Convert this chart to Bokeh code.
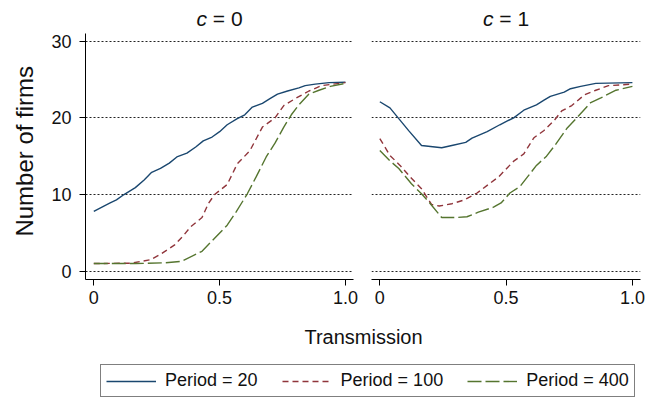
import math
from bokeh.plotting import figure
from bokeh.layouts import column, row
from bokeh.models import (Range1d, FixedTicker, CustomJSTickFormatter, Label,
                          Legend, LegendItem)
from bokeh.embed import file_html
from bokeh.resources import INLINE

FONT = "Liberation Sans"
TXT = "#111111"

panel_titles = ["0", "1"]
series_labels = ["Period = 20", "Period = 100", "Period = 400"]
y_ticks = [0, 10, 20, 30]
x_ticks = [0, 0.5, 1.0]

# c = 0
c0_p20_x = [0, 0.04, 0.065, 0.09, 0.12, 0.165, 0.2, 0.23, 0.265, 0.3, 0.33, 0.37, 0.405, 0.435,
            0.47, 0.5, 0.53, 0.57, 0.6, 0.63, 0.67, 0.7, 0.73, 0.77, 0.815, 0.84, 0.88, 0.935, 1.0]
c0_p20_y = [7.8, 8.5, 8.9, 9.3, 10.0, 10.9, 11.9, 12.9, 13.4, 14.1, 14.9, 15.4, 16.2, 17.0,
            17.5, 18.2, 19.1, 19.9, 20.4, 21.4, 21.9, 22.5, 23.1, 23.5, 23.9, 24.2, 24.4, 24.6, 24.65]
c0_p100_x = [0, 0.15, 0.225, 0.265, 0.32, 0.355, 0.385, 0.43, 0.455, 0.48, 0.53, 0.57, 0.62,
             0.67, 0.72, 0.755, 0.8, 0.855, 0.905, 1.0]
c0_p100_y = [1.0, 1.05, 1.5, 2.2, 3.4, 4.6, 5.8, 7.0, 8.8, 10.0, 11.3, 14.0, 15.7,
             18.8, 20.0, 21.6, 22.5, 23.5, 24.2, 24.6]
c0_p400_x = [0, 0.165, 0.285, 0.35, 0.43, 0.48, 0.53, 0.565, 0.61, 0.645, 0.685, 0.72, 0.755,
             0.785, 0.815, 0.855, 0.895, 0.94, 1.0]
c0_p400_y = [1.0, 1.0, 1.1, 1.3, 2.6, 4.3, 6.0, 7.7, 10.1, 12.3, 14.9, 16.7, 18.8,
             20.4, 21.7, 23.1, 23.6, 24.1, 24.5]

# c = 1
c1_p20_x = [0, 0.04, 0.075, 0.115, 0.165, 0.245, 0.285, 0.34, 0.365, 0.425, 0.475, 0.505, 0.53,
            0.57, 0.62, 0.65, 0.675, 0.73, 0.755, 0.795, 0.855, 1.0]
c1_p20_y = [22.1, 21.3, 19.9, 18.3, 16.4, 16.1, 16.4, 16.8, 17.35, 18.2, 19.1, 19.6, 20.0,
            21.0, 21.7, 22.3, 22.8, 23.35, 23.8, 24.1, 24.5, 24.6]
c1_p100_x = [0, 0.04, 0.08, 0.12, 0.165, 0.205, 0.235, 0.285, 0.335, 0.385, 0.425, 0.47, 0.505,
             0.53, 0.57, 0.61, 0.65, 0.69, 0.72, 0.76, 0.81, 0.855, 0.905, 1.0]
c1_p100_y = [17.3, 15.1, 13.8, 12.3, 10.75, 8.7, 8.5, 8.8, 9.3, 10.2, 11.2, 12.3, 13.5,
             14.35, 15.3, 17.4, 18.35, 19.65, 20.9, 21.6, 23.0, 23.6, 24.2, 24.4]
c1_p400_x = [0, 0.04, 0.075, 0.125, 0.165, 0.2, 0.245, 0.3, 0.345, 0.39, 0.45, 0.48, 0.515,
             0.555, 0.62, 0.66, 0.695, 0.74, 0.78, 0.835, 0.875, 0.935, 1.0]
c1_p400_y = [15.75, 14.4, 13.4, 11.4, 10.1, 8.8, 7.0, 7.0, 7.1, 7.7, 8.35, 8.9, 10.2,
             11.05, 13.8, 15.0, 16.5, 18.6, 20.0, 22.0, 22.6, 23.6, 24.1]

colors = ["#1a476f", "#90353b", "#55752f"]
dashes = ["solid", "6 4", "14 4"]

panels_data = [
    [(c0_p20_x, c0_p20_y), (c0_p100_x, c0_p100_y), (c0_p400_x, c0_p400_y)],
    [(c1_p20_x, c1_p20_y), (c1_p100_x, c1_p100_y), (c1_p400_x, c1_p400_y)],
]

XR = (-0.033, 1.032)
YR = (-1.08, 31.0)
STRIP_W = 40
PLOT_H = 282
TOP_H = 33


def make_panel(idx):
    left = idx == 0
    p = figure(width=322 if left else 291, height=PLOT_H,
               x_range=Range1d(*XR), y_range=Range1d(*YR),
               output_backend="svg", toolbar_location=None,
               y_axis_location="left" if left else None,
               min_border_left=45 if left else 9,
               min_border_right=9 if left else 13,
               min_border_top=0, min_border_bottom=36)
    p.outline_line_color = None
    p.background_fill_color = "white"
    p.border_fill_color = "white"
    p.xgrid.visible = False

    xa = p.xaxis[0]
    xa.ticker = FixedTicker(ticks=x_ticks)
    xa.formatter = CustomJSTickFormatter(code="return tick == 0 ? '0' : tick.toFixed(1);")
    xa.minor_tick_line_color = None
    xa.major_tick_in = 0
    xa.major_tick_out = 6
    xa.major_label_standoff = 5
    xa.axis_line_color = "black"
    xa.major_tick_line_color = "black"
    xa.major_label_text_font = FONT
    xa.major_label_text_font_size = "18px"
    xa.major_label_text_color = TXT

    if left:
        ya = p.yaxis[0]
        ya.ticker = FixedTicker(ticks=y_ticks)
        ya.minor_tick_line_color = None
        ya.major_tick_in = 0
        ya.major_tick_out = 6
        ya.major_label_standoff = 8
        ya.axis_line_color = "black"
        ya.major_tick_line_color = "black"
        ya.major_label_text_font = FONT
        ya.major_label_text_font_size = "18px"
        ya.major_label_text_color = TXT
    for g in p.ygrid:
        g.ticker = FixedTicker(ticks=y_ticks)
        g.grid_line_color = "#222222"
        g.grid_line_dash = "2 2"
        g.grid_line_width = 1
        g.minor_grid_line_color = None

    for (xs, ys), col, dash in zip(panels_data[idx], colors, dashes):
        p.line(xs, ys, line_color=col, line_width=1.4, line_dash=dash)
    return p


p_left = make_panel(0)
p_right = make_panel(1)

# left strip with the y-axis title
strip = figure(width=STRIP_W, height=PLOT_H, x_range=Range1d(0, STRIP_W), y_range=Range1d(0, PLOT_H),
               output_backend="svg", toolbar_location=None,
               x_axis_location=None, y_axis_location=None,
               min_border_left=0, min_border_right=0, min_border_top=0, min_border_bottom=0)
strip.outline_line_color = None
strip.grid.visible = False
strip.add_layout(Label(x=24, y=PLOT_H - (168 - TOP_H), text="Number of firms", angle=math.pi / 2,
                       text_align="center", text_baseline="middle",
                       text_font=FONT, text_font_size="24px", text_color=TXT))

# top strip with the panel titles
top = figure(width=653, height=TOP_H, x_range=Range1d(0, 653), y_range=Range1d(0, TOP_H),
             output_backend="svg", toolbar_location=None,
             x_axis_location=None, y_axis_location=None,
             min_border_left=0, min_border_right=0, min_border_top=0, min_border_bottom=0)
top.outline_line_color = None
top.grid.visible = False
frame_lefts = [85, 371]
frame_w = [268, 269]
for fl, fw, t in zip(frame_lefts, frame_w, panel_titles):
    cx = fl + (0.5 - XR[0]) / (XR[1] - XR[0]) * fw
    top.add_layout(Label(x=cx, y=TOP_H - 17.5, text="c", text_font_style="italic",
                         text_align="right", text_baseline="middle", x_offset=-12.6,
                         text_font=FONT, text_font_size="21px", text_color=TXT))
    top.add_layout(Label(x=cx, y=TOP_H - 17.5, text="= " + t,
                         text_align="left", text_baseline="middle", x_offset=-6.8,
                         text_font=FONT, text_font_size="21px", text_color=TXT))

# bottom strip: x-axis title and legend
bottom = figure(width=653, height=83, x_range=Range1d(0, 653), y_range=Range1d(0, 83),
                output_backend="svg", toolbar_location=None,
                x_axis_location=None, y_axis_location=None,
                min_border_left=0, min_border_right=0, min_border_top=0, min_border_bottom=0)
bottom.outline_line_color = None
bottom.grid.visible = False
bottom.add_layout(Label(x=363, y=62, text="Transmission", text_align="center",
                        text_baseline="middle", text_font=FONT, text_font_size="20px",
                        text_color=TXT))
items = []
for lab, col, dash in zip(series_labels, colors, dashes):
    r = bottom.line([float("nan")], [float("nan")], line_color=col, line_width=1.4, line_dash=dash)
    items.append(LegendItem(label=lab, renderers=[r]))
legend = Legend(items=items, orientation="horizontal", location=(100, 1),
                glyph_width=50, glyph_height=20, label_standoff=9, spacing=24,
                padding=5, margin=0, label_height=20,
                label_text_font=FONT, label_text_font_size="18px", label_text_color=TXT,
                border_line_color="black", border_line_width=1,
                background_fill_color="white", background_fill_alpha=1.0)
bottom.add_layout(legend)

layout = column(top, row(strip, p_left, p_right), bottom)
open("out.html", "w").write(file_html(layout, INLINE))
